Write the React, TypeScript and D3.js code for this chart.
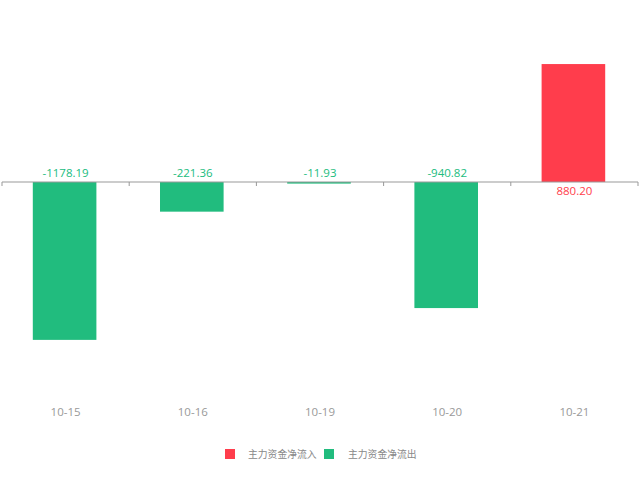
import React from "react";
import * as d3 from "d3";

const categories = ["10-15", "10-16", "10-19", "10-20", "10-21"];
const values = [-1178.19, -221.36, -11.93, -940.82, 880.2];
const legendLabels = ["主力资金净流入", "主力资金净流出"];

const W = 640;
const H = 480;
const RED = "#FF3D4C";
const GREEN = "#21BC7E";

export default function App() {
  const x = d3.scaleBand<string>().domain(categories).range([2, 638]).paddingInner(0).paddingOuter(0);
  const y = d3.scaleLinear().domain([-1500, 1000]).range([383, 48]);
  const y0 = y(0);
  const bw = x.bandwidth() * 0.5;
  const font = "'Open Sans', 'Noto Sans CJK SC', sans-serif";
  const ticks = [...categories.map((c) => x(c)!), 638];

  return (
    <svg width={W} height={H} style={{ position: "absolute", left: 0, top: 0 }}>
      <rect width={W} height={H} fill="#fff" />
      {values.map((v, i) => {
        const cx = x(categories[i])! + x.bandwidth() / 2;
        const top = Math.min(y(v), y0);
        const h = Math.abs(y(v) - y0);
        return (
          <rect key={i} x={cx - bw / 2 - 1} y={top} width={bw} height={Math.max(h, 1)} fill={v >= 0 ? RED : GREEN} />
        );
      })}
      <line x1={2} x2={638} y1={y0} y2={y0} stroke="#999" strokeWidth={1} />
      {ticks.map((t, i) => (
        <line key={i} x1={t} x2={t} y1={y0} y2={y0 + 4} stroke="#999" strokeWidth={1} />
      ))}
      {values.map((v, i) => {
        const cx = x(categories[i])! + x.bandwidth() / 2;
        return (
          <text
            key={"l" + i}
            x={cx}
            y={v >= 0 ? y0 + 13 : y0 - 5}
            textAnchor="middle"
            fontSize={11.5}
            fontFamily={font}
            fill={v >= 0 ? RED : GREEN}
          >
            {v.toFixed(2)}
          </text>
        );
      })}
      {categories.map((c) => (
        <text
          key={c}
          x={x(c)! + x.bandwidth() / 2}
          y={416}
          textAnchor="middle"
          fontSize={11.5}
          fontFamily={font}
          fill="#999"
        >
          {c}
        </text>
      ))}
      <g fontFamily={font} fontSize={9.8} fill="#888">
        <rect x={225} y={449} width={10} height={10} fill={RED} />
        <text x={248} y={458}>{legendLabels[0]}</text>
        <rect x={324} y={449} width={10} height={10} fill={GREEN} />
        <text x={348} y={458}>{legendLabels[1]}</text>
      </g>
    </svg>
  );
}
